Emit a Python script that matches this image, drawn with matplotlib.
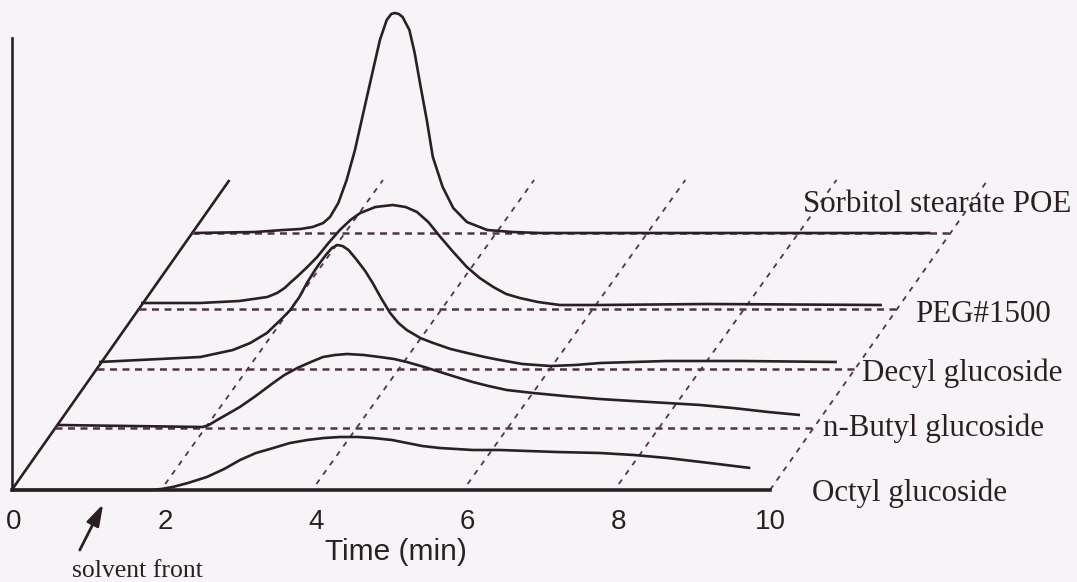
import matplotlib
matplotlib.use("Agg")
import matplotlib.pyplot as plt
import numpy as np

# ---- data (time in min, signal in arbitrary units) ----
names = ["Octyl glucoside", "n-Butyl glucoside", "Decyl glucoside",
         "PEG#1500", "Sorbitol stearate POE"]

octyl_t = [0.0, 1.8, 1.95, 2.10, 2.30, 2.55, 2.78, 2.99, 3.20, 3.43, 3.65, 3.88, 4.10, 4.31, 4.55, 4.75, 5.00, 5.20,
           5.40, 5.63, 5.85, 6.07, 6.43, 6.80, 7.18, 7.75, 8.20, 8.64, 9.20, 9.74]
octyl_h = [0, 0, 1, 3, 7, 13, 21, 30, 37, 42, 47, 50, 52, 53, 53, 52, 50, 47,
           44, 42, 41, 40, 40, 39, 38, 37, 35, 32, 27, 22]

butyl_t = [0.0, 1.92, 2.00, 2.11, 2.25, 2.41, 2.62, 2.85, 3.00, 3.17, 3.35, 3.51, 3.67, 3.83, 4.05, 4.26, 4.45, 4.62,
           4.85, 5.06, 5.27, 5.49, 5.70, 5.94, 6.29, 6.70, 7.17, 7.60, 8.06, 8.50, 8.93, 9.40, 9.82]
butyl_h = [3, 1, 3, 8, 14, 21, 32, 45, 53, 60, 66, 71, 73, 74, 73, 71, 69, 66,
           61, 56, 51, 46, 42, 38, 35, 32, 29, 27, 25, 23, 20, 16, 13]

decyl_t = [0.0, 1.34, 1.77, 2.00, 2.22, 2.40, 2.53, 2.65, 2.75, 2.84, 2.92, 3.00, 3.08, 3.15, 3.22, 3.30, 3.41, 3.52,
           3.62, 3.73, 3.85, 3.96, 4.07, 4.25, 4.42, 4.65, 4.87, 5.10, 5.30, 5.60, 5.97, 6.30, 6.63, 7.51, 8.50, 9.76]
decyl_h = [7, 12, 19, 26, 36, 49, 59, 72, 86, 97, 106, 114, 121, 124, 123, 119, 109, 98,
           86, 71, 56, 46, 39, 31, 26, 20, 16, 12, 9, 5, 3, 4, 6, 8, 8, 7]

peg_t = [0.0, 0.78, 1.30, 1.67, 1.80, 1.90, 1.97, 2.06, 2.20, 2.33, 2.48, 2.63, 2.77, 2.90, 3.10, 3.33, 3.50, 3.65,
         3.80, 3.96, 4.13, 4.31, 4.48, 4.66, 4.83, 5.01, 5.25, 5.54, 6.07, 7.50, 9.80]
peg_h = [6, 6, 8, 12, 16, 21, 26, 32, 42, 52, 66, 79, 89, 96, 102, 104, 102, 97,
         87, 72, 57, 42, 31, 22, 15, 11, 7, 4, 4, 5, 4]

sorb_t = [0.0, 0.80, 1.17, 1.40, 1.56, 1.70, 1.79, 1.90, 2.01, 2.12, 2.23, 2.35, 2.45, 2.54, 2.60, 2.65, 2.70, 2.75,
          2.84, 2.91, 2.98, 3.07, 3.15, 3.28, 3.42, 3.60, 3.87, 4.20, 4.57, 7.00, 9.73]
sorb_h = [0, 1, 3, 4, 6, 10, 16, 30, 53, 83, 120, 160, 193, 213, 219, 220, 219, 216,
          203, 180, 150, 113, 76, 46, 25, 11, 3, 1, 0, 0, 0]

series_t = [octyl_t, butyl_t, decyl_t, peg_t, sorb_t]
series_h = [octyl_h, butyl_h, decyl_h, peg_h, sorb_h]

# oblique (pseudo-3D) offsets of each trace
depth_dx = [0.0, 0.577, 1.125, 1.68, 2.39]
depth_dy = [0, 62, 121, 181, 257]
depth_top_dx, depth_top_dy = 2.88, 310

tick_vals = [0, 2, 4, 6, 8, 10]
grid_times = [2, 4, 6, 8, 10]

# ---- style ----
ink = "#2a2024"
dash_c = "#523545"
bg = "#f6f4f6"

fig = plt.figure(figsize=(10.77, 5.82), dpi=100, facecolor=bg)
ax = fig.add_axes([0, 0, 1, 1], facecolor=bg)
ax.set_xlim(-14 / 75.6, (1077 - 14) / 75.6)
ax.set_ylim(-92, 490)

for s in ["top", "right"]:
    ax.spines[s].set_visible(False)
ax.spines["bottom"].set_position(("data", 0))
ax.spines["bottom"].set_bounds(-0.03, 10)
ax.spines["bottom"].set_linewidth(2.6)
ax.spines["bottom"].set_color(ink)
ax.spines["left"].set_position(("data", -0.03))
ax.spines["left"].set_bounds(0, 452)
ax.spines["left"].set_linewidth(1.9)
ax.spines["left"].set_color(ink)
ax.set_yticks([])
ax.set_xticks(tick_vals)
ax.set_xticklabels([str(v) for v in tick_vals], family="Liberation Sans", fontsize=20, color=ink)
ax.tick_params(axis="x", length=0, pad=14)

# depth axis (solid diagonal)
ax.plot([-0.03, depth_top_dx - 0.03], [0, depth_top_dy], color=ink, lw=1.9, solid_capstyle="butt")

# slanted dashed time grid
for t in grid_times:
    ax.plot([t, t + depth_top_dx], [6 if t < 10 else 0, depth_top_dy], color=dash_c, lw=1.3,
            dashes=(3.0, 3.4))

# dashed baselines
for i in range(1, len(names)):
    ax.plot([depth_dx[i] - 0.03, 10 + depth_dx[i]], [depth_dy[i], depth_dy[i]],
            color=dash_c, lw=1.8, dashes=(2.8, 2.2))

# traces
for t, h, dx, dy in zip(series_t, series_h, depth_dx, depth_dy):
    ax.plot(np.array(t) + dx, np.array(h) + dy, color=ink, lw=1.9,
            solid_joinstyle="round", solid_capstyle="butt")

# labels
label_pos = [(10.55, -3), (10.70, 62), (11.22, 117), (11.92, 176), (10.44, 285)]
for name, (lx, ly) in zip(names, label_pos):
    ax.text(lx, ly, name, family="Liberation Serif", fontsize=22.3, color=ink,
            ha="left", va="center")

ax.text(5.05, -62, "Time (min)", family="Liberation Sans", fontsize=21.5, color=ink,
        ha="center", va="center")
ax.text(1.63, -81, "solvent front", family="Liberation Serif", fontsize=18.5, color=ink,
        ha="center", va="center")
ax.annotate("", xy=(1.18, -14), xytext=(0.87, -60),
            arrowprops=dict(arrowstyle="-|>,head_length=1.3,head_width=0.4",
                            color=ink, lw=2.0, shrinkA=0, shrinkB=0))

fig.savefig("out.png", dpi=100, facecolor=bg)
